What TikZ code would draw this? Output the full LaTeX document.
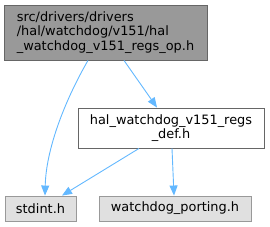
\documentclass[tikz,border=0pt]{standalone}
\usepackage{fontspec}
\setmainfont{DejaVu Sans}
\usepackage{xcolor}
\usetikzlibrary{arrows.meta}
\definecolor{curfill}{HTML}{999999}
\definecolor{curline}{HTML}{666666}
\definecolor{sysfill}{HTML}{E0E0E0}
\definecolor{sysline}{HTML}{999999}
\definecolor{edge}{HTML}{63B8FF}
\newcommand{\doxfont}{\fontsize{12.9}{14.5}\selectfont}
\tikzset{
  box/.style={draw, align=center, font=\doxfont, inner sep=0pt, line width=0.9pt},
  cur/.style={box, fill=curfill, draw=curline, align=left},
  inc/.style={box, fill=white, draw=curline},
  sys/.style={box, fill=sysfill, draw=sysline},
  flow/.style={-{Triangle[length=10pt,width=8pt]}, line width=0.9pt, draw=edge},
}

\begin{document}
\begin{tikzpicture}[x=1pt, y=-1pt]
  \useasboundingbox (0,0) rectangle (270,227);
  \node[cur, minimum width=203pt, minimum height=55pt] (regsop) at (105.5,32.5)
    {src/drivers/drivers\\/hal/watchdog/v151/hal\\\_watchdog\_v151\_regs\_op.h};
  \node[inc, minimum width=186pt, minimum height=40pt] (regsdef) at (171,128)
    {hal\_watchdog\_v151\_regs\\\_def.h};
  \node[sys, minimum width=71pt, minimum height=25pt] (stdint) at (40.5,208.5) {stdint.h};
  \node[sys, minimum width=152pt, minimum height=25pt] (porting) at (175,208.5) {watchdog\_porting.h};
  % edges
  \draw[flow] ([xshift=-17.5pt]regsop.south) .. controls (64,102) and (46,150) .. ([xshift=4.5pt]stdint.north);
  \draw[flow] ([xshift=18.5pt]regsop.south) -- ([xshift=-14pt]regsdef.north);
  \draw[flow] ([xshift=-32pt]regsdef.south) -- ([xshift=21.5pt]stdint.north);
  \draw[flow] ([xshift=1pt]regsdef.south) -- ([xshift=-1pt]porting.north);
\end{tikzpicture}
\end{document}
